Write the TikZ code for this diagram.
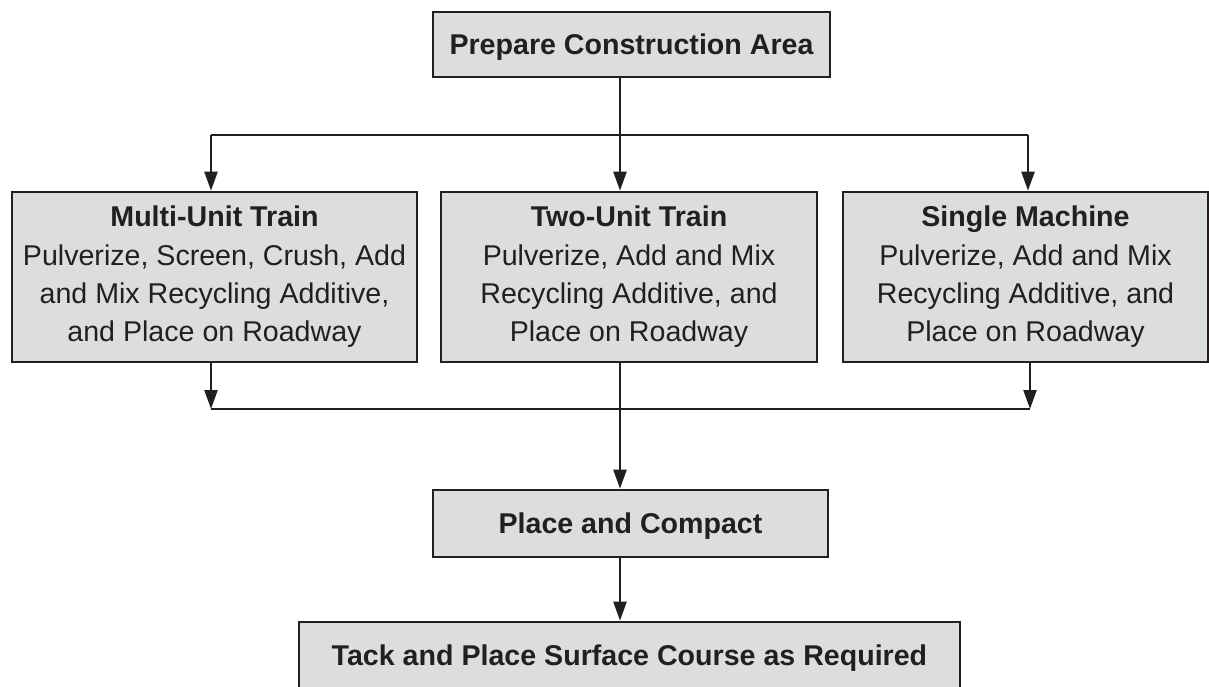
\documentclass[tikz,border=0pt]{standalone}
\usepackage{fontspec}
\setmainfont{Liberation Sans}
\usetikzlibrary{arrows.meta}
\definecolor{boxfill}{RGB}{220,221,223}
\definecolor{ink}{RGB}{35,31,32}
\begin{document}
\begin{tikzpicture}[x=1pt,y=-1pt,
  box/.style={draw=ink, fill=boxfill, line width=2.6pt, inner sep=0pt,
    font=\fontsize{28.6}{38.3}\selectfont, text=ink, align=center},
  onebox/.style={box, text height=20.5pt, text depth=0pt},
  conn/.style={draw=ink, line width=2.4pt},
  arr/.style={conn, -{Triangle[length=19pt,width=13pt]}}]
\useasboundingbox (0,0) rectangle (1209,687);
\clip (0,0) rectangle (1209,687);
\node[onebox, minimum width=397pt, minimum height=65pt] (prep) at (631.5,44.5) {\bfseries Prepare Construction Area};
\node[box, minimum width=405pt, minimum height=170pt] (multi) at (214.5,277)
  {\textbf{Multi-Unit Train}\\Pulverize, Screen, Crush, Add\\and Mix Recycling Additive,\\and Place on Roadway};
\node[box, minimum width=376pt, minimum height=170pt] (two) at (629,277)
  {\textbf{Two-Unit Train}\\Pulverize, Add and Mix\\Recycling Additive, and\\Place on Roadway};
\node[box, minimum width=365pt, minimum height=170pt] (single) at (1025.5,277)
  {\textbf{Single Machine}\\Pulverize, Add and Mix\\Recycling Additive, and\\Place on Roadway};
\node[onebox, minimum width=395pt, minimum height=67pt] (place) at (630.5,523.5) {\bfseries Place and Compact};
\node[onebox, minimum width=661pt, minimum height=66pt] (tack) at (629.5,655) {\bfseries Tack and Place Surface Course as Required};
\coordinate (tl) at (211,135);
\coordinate (tr) at (1028,135);
\coordinate (jt) at (620,135);
\coordinate (bl) at (211,409);
\coordinate (br) at (1030,409);
\coordinate (jb) at (620,409);
\draw[conn] (tl) -- (tr);
\draw[arr] (jt |- prep.south) -- (jt |- two.north);
\draw[arr] (tl) -- (tl |- multi.north);
\draw[arr] (tr) -- (tr |- single.north);
\draw[arr] (bl |- multi.south) -- (bl);
\draw[arr] (br |- single.south) -- (br);
\draw[conn] (bl) -- (br);
\draw[arr] (jb |- two.south) -- (jb |- place.north);
\draw[arr] (jb |- place.south) -- (jb |- tack.north);
\end{tikzpicture}
\end{document}
